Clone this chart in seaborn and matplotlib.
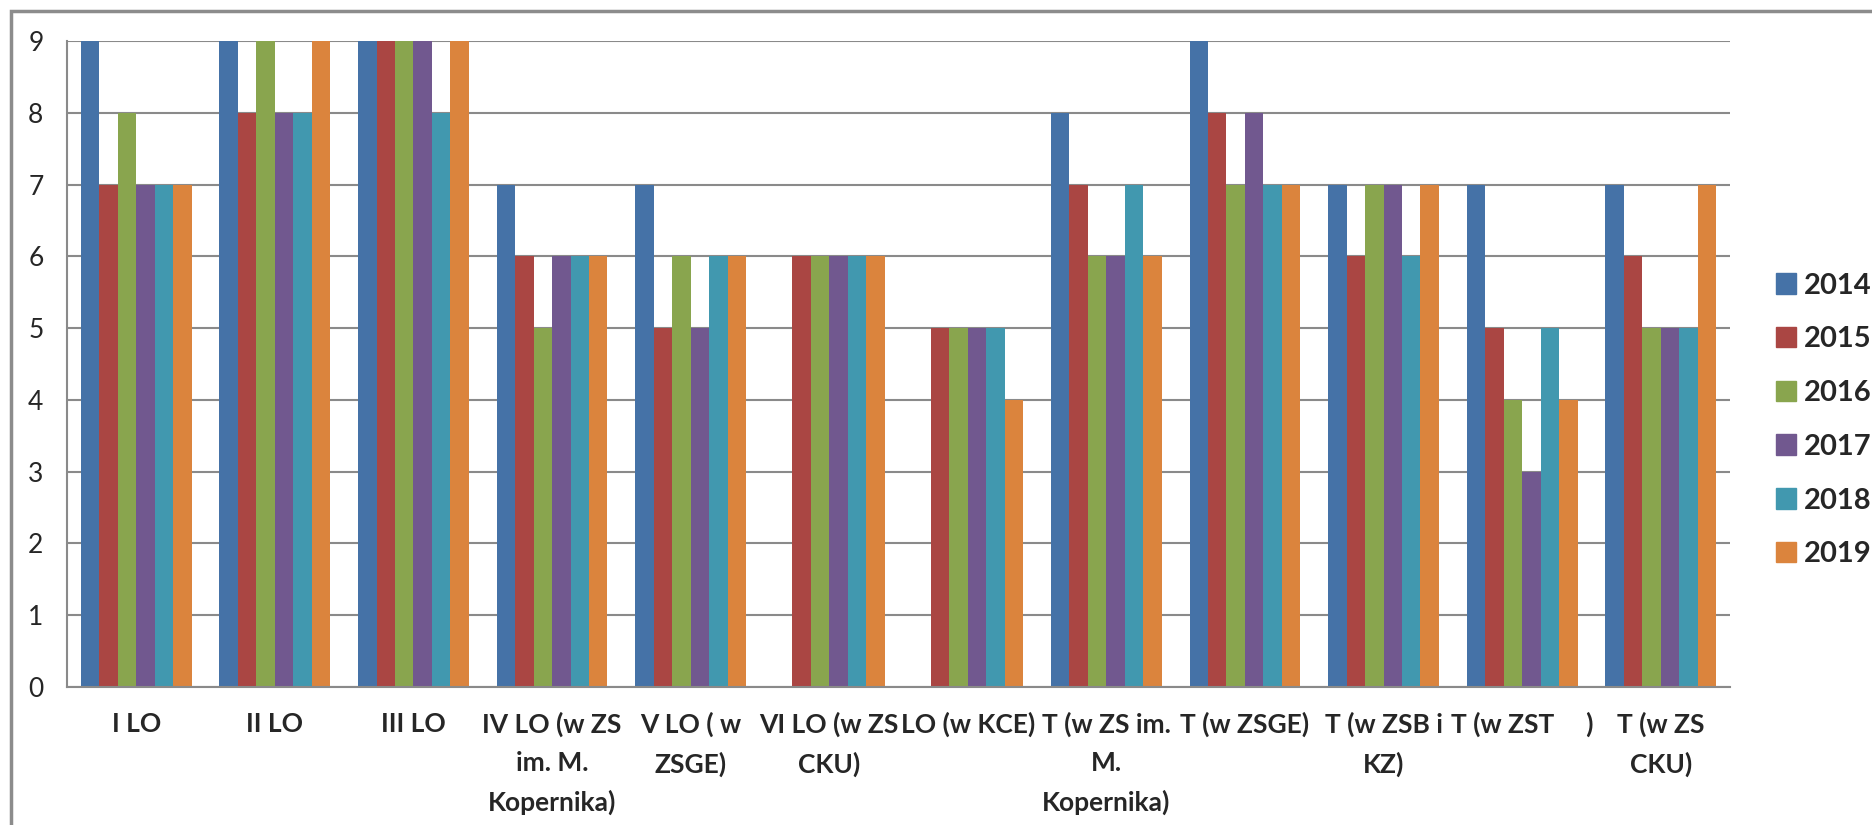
import matplotlib
matplotlib.use("Agg")
import matplotlib.pyplot as plt
import numpy as np
import pandas as pd
import seaborn as sns
from matplotlib.patches import Rectangle

schools = [
    "I LO",
    "II LO",
    "III LO",
    "IV LO (w ZS\nim. M.\nKopernika)",
    "V LO ( w\nZSGE)",
    "VI LO (w ZS\nCKU)",
    "LO (w KCE)",
    "T (w ZS im.\nM.\nKopernika)",
    "T (w ZSGE)",
    "T (w ZSB i\nKZ)",
    "T (w ZST     )",
    "T (w ZS\nCKU)",
]
years = ["2014", "2015", "2016", "2017", "2018", "2019"]

v2014 = [9, 9, 9, 7, 7, np.nan, np.nan, 8, 9, 7, 7, 7]
v2015 = [7, 8, 9, 6, 5, 6, 5, 7, 8, 6, 5, 6]
v2016 = [8, 9, 9, 5, 6, 6, 5, 6, 7, 7, 4, 5]
v2017 = [7, 8, 9, 6, 5, 6, 5, 6, 8, 7, 3, 5]
v2018 = [7, 8, 8, 6, 6, 6, 5, 7, 7, 6, 5, 5]
v2019 = [7, 9, 9, 6, 6, 6, 4, 6, 7, 7, 4, 7]

colors = ["#4572A7", "#AA4643", "#89A54E", "#71588F", "#4198AF", "#DB843D"]

series = [v2014, v2015, v2016, v2017, v2018, v2019]
rows = []
for year, vals in zip(years, series):
    for school, v in zip(schools, vals):
        rows.append({"school": school, "year": year, "value": v})
df = pd.DataFrame(rows)

sns.set_style("white")
plt.rcParams["font.family"] = ["Lato", "DejaVu Sans"]

fig = plt.figure(figsize=(18.72, 8.25), dpi=100)
ax = fig.add_axes([67 / 1872, 1 - 687 / 825, (1730 - 67) / 1872, (687 - 41) / 825])

sns.barplot(
    data=df, x="school", y="value", hue="year", order=schools, hue_order=years,
    palette=colors, width=0.8, errorbar=None, saturation=1, ax=ax,
)
for p in ax.patches:
    p.set_edgecolor("none")

ax.set_ylim(0, 9)
ax.set_xlim(-0.5, len(schools) - 0.5)
ax.set_yticks(range(0, 10))
ax.yaxis.grid(True, color="#8a8a8a", linewidth=1.5)
ax.set_axisbelow(True)
ax.set_xlabel("")
ax.set_ylabel("")

for s in ["top", "right"]:
    ax.spines[s].set_visible(False)
for s in ["left", "bottom"]:
    ax.spines[s].set_color("#8a8a8a")
    ax.spines[s].set_linewidth(1.5)

ax.set_xticks(np.arange(-0.5, len(schools)), minor=True)
ax.tick_params(axis="x", which="major", length=0, pad=18, labelsize=19)
ax.tick_params(axis="x", which="minor", length=9, width=1.5, color="#8a8a8a", direction="out")
ax.tick_params(axis="y", length=9, width=1.5, color="#8a8a8a", direction="out", labelsize=19, pad=8)
for lab in ax.get_xticklabels():
    lab.set_fontweight("bold")
    lab.set_linespacing(1.7)
    lab.set_verticalalignment("top")

ax.get_legend().remove()
handles = [Rectangle((0, 0), 1, 1, color=c) for c in colors]
fig.legend(
    handles, years, loc="center left", bbox_to_anchor=(1776 / 1872, 1 - 420 / 825),
    frameon=False, prop={"weight": "bold", "size": 21}, borderpad=0, borderaxespad=0,
    handlelength=0.7, handleheight=0.7, handletextpad=0.25, labelspacing=0.95,
)

fig.patches.append(Rectangle((11 / 1872, -0.1), 1.2, 1 - 11 / 825 + 0.1, transform=fig.transFigure,
                             fill=False, edgecolor="#8c8c8c", linewidth=2.5, figure=fig))

fig.savefig("out.png", dpi=100)
